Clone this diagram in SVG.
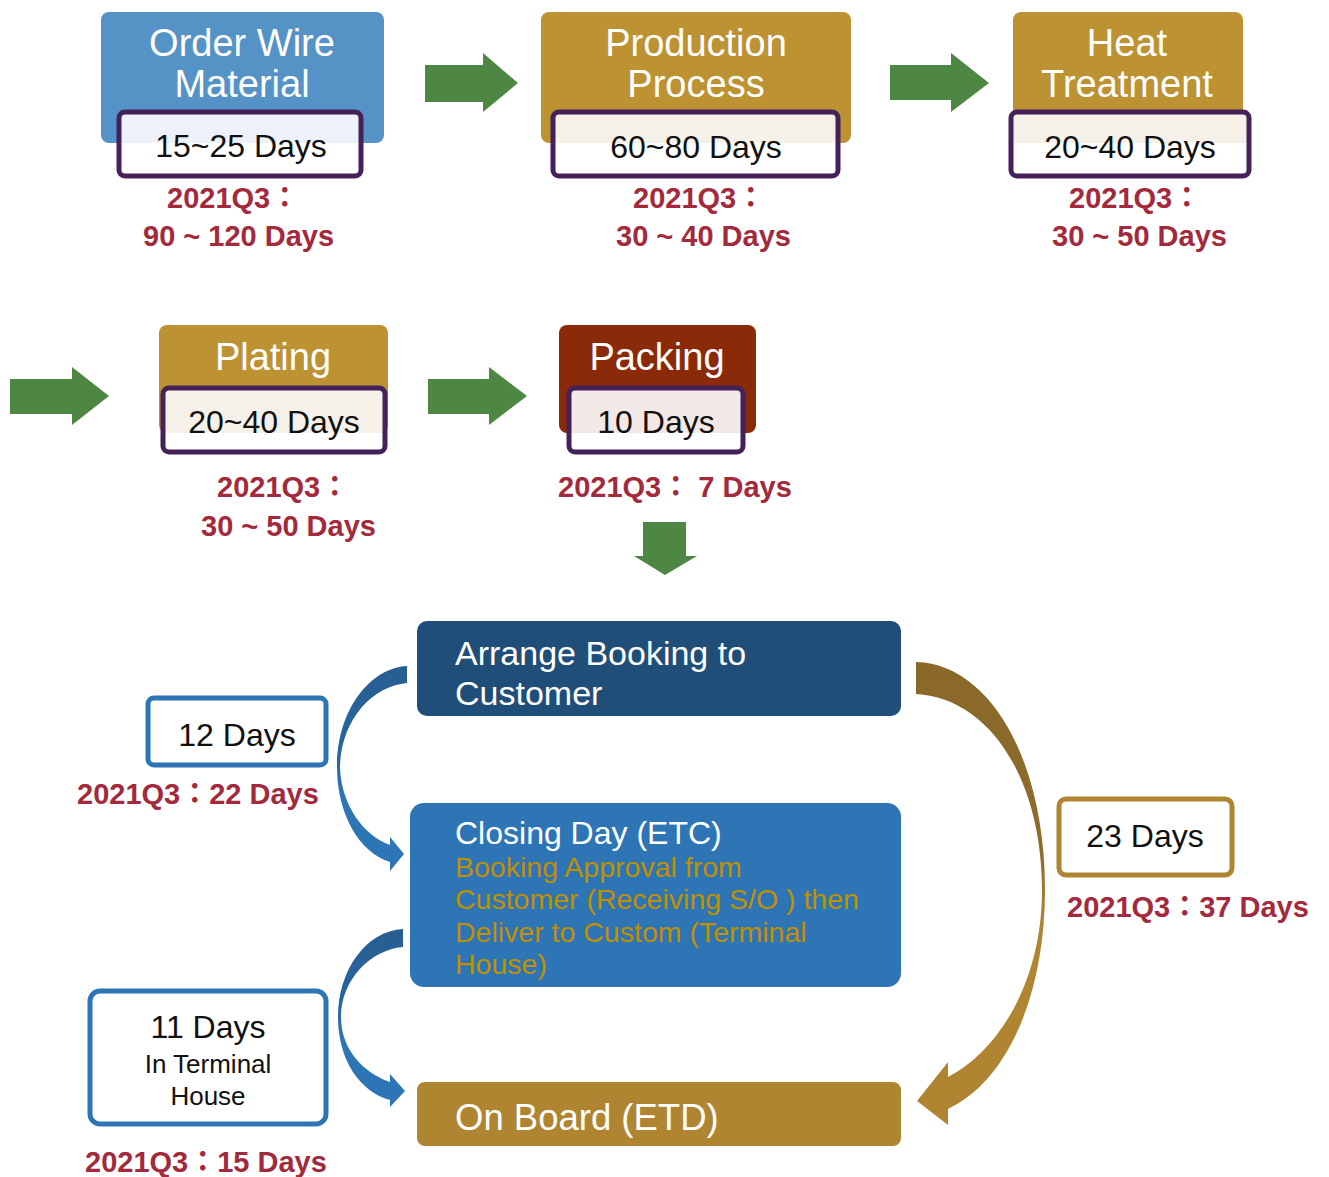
<svg xmlns="http://www.w3.org/2000/svg" width="1329" height="1177" viewBox="0 0 1329 1177">
<defs>
<style>
.title{font-family:"Liberation Sans",Arial,sans-serif;font-size:38px;fill:#ffffff;text-anchor:middle}
.days{font-family:"Liberation Sans",Arial,sans-serif;font-size:32px;fill:#111111;text-anchor:middle}
.dbox{fill:none;stroke:#45215a;stroke-width:5}
.white{fill:#ffffff}
.red{font-family:"Liberation Sans","Noto Sans CJK TC",sans-serif;font-weight:bold;font-size:29px;fill:#a32a3c}
.green{fill:#4e8743}
.wt{font-family:"Liberation Sans",Arial,sans-serif;fill:#ffffff}
.gt{font-family:"Liberation Sans",Arial,sans-serif;fill:#c09000;font-size:28.5px}
.lbl{font-family:"Liberation Sans",Arial,sans-serif;fill:#111111;text-anchor:middle}
</style>
<linearGradient id="gBlue" x1="0" y1="0" x2="0" y2="1">
<stop offset="0" stop-color="#275d91"/>
<stop offset="0.45" stop-color="#2a66a0"/>
<stop offset="0.6" stop-color="#2e75b6"/>
<stop offset="1" stop-color="#2e75b6"/>
</linearGradient>
<linearGradient id="gGold" x1="0" y1="0" x2="0" y2="1">
<stop offset="0" stop-color="#8a682a"/>
<stop offset="0.42" stop-color="#8e6c2c"/>
<stop offset="0.56" stop-color="#b08532"/>
<stop offset="1" stop-color="#b08532"/>
</linearGradient>
</defs>

<g id="connectors">
<polygon class="green" points="425,65 483,65 483,53 518,83 483,112 483,102 425,102"/>
<polygon class="green" points="890,65 951,65 951,53 989,83 951,112 951,100 890,100"/>
<polygon class="green" points="10,379 72,379 72,367 109,396 72,425 72,414 10,414"/>
<polygon class="green" points="428,379 489,379 489,367 527,396 489,425 489,414 428,414"/>
<polygon class="green" points="643,522 686,522 686,556 697,556 665,575 634,556 643,556"/>
<path fill="url(#gBlue)" d="M407 666 C370 668 337 710 337 767 C337 815 360 853 390 862 L390 871 L404 854 L390 837 L390 845 C364 836 341 805 340 767 C341 720 372 686 407 683 Z"/>
<path fill="url(#gBlue)" d="M403 929 C366 931 338 970 338 1017 C338 1060 360 1092 390 1100 L390 1107 L405 1091 L390 1074 L390 1082 C364 1073 341 1050 341 1017 C341 980 370 950 403 947 Z"/>
<path fill="url(#gGold)" d="M916 662 C990 664 1045 760 1045 890 C1045 990 1010 1080 948 1109 L948 1125 L917 1101 L948 1062 L948 1077 C1000 1050 1042 980 1042 890 C1042 780 990 698 916 694 Z"/>
</g>

<g id="order-wire">
<rect x="101" y="12" width="283" height="131" rx="8" fill="#5593c7"/>
<text class="title" x="242" y="56">Order Wire</text>
<text class="title" x="242" y="97">Material</text>
<rect class="white" x="119" y="112" width="242" height="64" rx="6"/>
<rect x="121" y="114" width="238" height="29" fill="#edf2fa"/>
<rect class="dbox" x="119" y="112" width="242" height="64" rx="6"/>
<text class="days" x="241" y="157">15~25 Days</text>
<text class="red" x="167" y="208">2021Q3：</text>
<text class="red" x="143" y="246">90 ~ 120 Days</text>
</g>

<g id="production">
<rect x="541" y="12" width="310" height="131" rx="8" fill="#bd9232"/>
<text class="title" x="696" y="56">Production</text>
<text class="title" x="696" y="97">Process</text>
<rect class="white" x="553" y="112" width="285" height="64" rx="6"/>
<rect x="555" y="114" width="281" height="29" fill="#f6f1e8"/>
<rect class="dbox" x="553" y="112" width="285" height="64" rx="6"/>
<text class="days" x="696" y="158">60~80 Days</text>
<text class="red" x="633" y="208">2021Q3：</text>
<text class="red" x="616" y="246">30 ~ 40 Days</text>
</g>

<g id="heat-treatment">
<rect x="1013" y="12" width="230" height="131" rx="8" fill="#bd9232"/>
<text class="title" x="1127" y="56">Heat</text>
<text class="title" x="1127" y="97">Treatment</text>
<rect class="white" x="1011" y="112" width="238" height="64" rx="6"/>
<rect x="1013" y="114" width="234" height="29" fill="#f6f1e8"/>
<rect class="dbox" x="1011" y="112" width="238" height="64" rx="6"/>
<text class="days" x="1130" y="158">20~40 Days</text>
<text class="red" x="1069" y="208">2021Q3：</text>
<text class="red" x="1052" y="246">30 ~ 50 Days</text>
</g>

<g id="plating">
<rect x="159" y="325" width="229" height="108" rx="8" fill="#bd9232"/>
<text class="title" x="273" y="370">Plating</text>
<rect class="white" x="163" y="388" width="222" height="64" rx="6"/>
<rect x="165" y="390" width="218" height="43" fill="#f6f1e8"/>
<rect class="dbox" x="163" y="388" width="222" height="64" rx="6"/>
<text class="days" x="274" y="433">20~40 Days</text>
<text class="red" x="217" y="497">2021Q3：</text>
<text class="red" x="201" y="536">30 ~ 50 Days</text>
</g>

<g id="packing">
<rect x="559" y="325" width="197" height="108" rx="8" fill="#8b2a08"/>
<text class="title" x="657" y="370">Packing</text>
<rect class="white" x="569" y="388" width="174" height="64" rx="6"/>
<rect x="571" y="390" width="170" height="43" fill="#f2e8e6"/>
<rect class="dbox" x="569" y="388" width="174" height="64" rx="6"/>
<text class="days" x="656" y="433">10 Days</text>
<text class="red" x="558" y="497">2021Q3： 7 Days</text>
</g>

<g id="arrange-booking">
<rect x="417" y="621" width="484" height="95" rx="10" fill="#1f4e79"/>
<text class="wt" x="455" y="665" font-size="34">Arrange Booking to</text>
<text class="wt" x="455" y="705" font-size="34">Customer</text>
</g>

<g id="closing-day">
<rect x="410" y="803" width="491" height="184" rx="14" fill="#2e75b6"/>
<text class="wt" x="455" y="844" font-size="32">Closing Day (ETC)</text>
<text class="gt" x="455" y="877">Booking Approval from</text>
<text class="gt" x="455" y="909">Customer (Receiving S/O ) then</text>
<text class="gt" x="455" y="942">Deliver to Custom (Terminal</text>
<text class="gt" x="455" y="974">House)</text>
</g>

<g id="on-board">
<rect x="417" y="1082" width="484" height="64" rx="8" fill="#b08532"/>
<text class="wt" x="455" y="1130" font-size="36.5">On Board (ETD)</text>
</g>

<g id="days-12">
<rect x="148" y="698" width="178" height="67" rx="6" fill="#ffffff" stroke="#2e75b6" stroke-width="5"/>
<text class="lbl" x="237" y="746" font-size="32">12 Days</text>
<text class="red" x="77" y="804">2021Q3：22 Days</text>
</g>

<g id="days-11">
<rect x="90" y="991" width="236" height="133" rx="10" fill="#ffffff" stroke="#2e75b6" stroke-width="5"/>
<text class="lbl" x="208" y="1038" font-size="32">11 Days</text>
<text class="lbl" x="208" y="1073" font-size="26">In Terminal</text>
<text class="lbl" x="208" y="1105" font-size="26">House</text>
<text class="red" x="85" y="1172">2021Q3：15 Days</text>
</g>

<g id="days-23">
<rect x="1059" y="799" width="173" height="76" rx="7" fill="#ffffff" stroke="#b08532" stroke-width="5"/>
<text class="lbl" x="1145" y="847" font-size="32">23 Days</text>
<text class="red" x="1067" y="917">2021Q3：37 Days</text>
</g>
</svg>
